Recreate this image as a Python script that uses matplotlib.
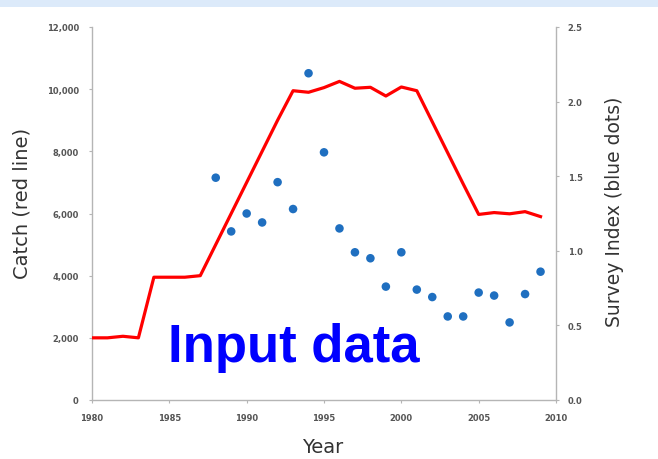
import matplotlib
matplotlib.use("Agg")
import matplotlib.pyplot as plt
from matplotlib.patches import Rectangle
from matplotlib.ticker import FuncFormatter

# ---- data ----
catch_years = list(range(1980, 2010))
catch = [2000, 2000, 2050, 2000, 3950, 3950, 3950, 4000, 5000, 6000,
         7000, 8000, 9000, 9950, 9900, 10050, 10250, 10030, 10060, 9780,
         10070, 9950, 8950, 7950, 6950, 5970, 6030, 5990, 6060, 5900]

survey_years = list(range(1988, 2010))
survey = [1.49, 1.13, 1.25, 1.19, 1.46, 1.28, 2.19, 1.66, 1.15, 0.99,
          0.95, 0.76, 0.99, 0.74, 0.69, 0.56, 0.56, 0.72, 0.70, 0.52,
          0.71, 0.86]

x_ticks = [1980, 1985, 1990, 1995, 2000, 2005, 2010]
left_ticks = [0, 2000, 4000, 6000, 8000, 10000, 12000]
right_ticks = [0.0, 0.5, 1.0, 1.5, 2.0, 2.5]

W, H = 658, 460
fig = plt.figure(figsize=(W / 100, H / 100), dpi=100)
fig.patch.set_facecolor("white")
fig.patches.append(Rectangle((0, 1 - 8 / H), 1, 8 / H, transform=fig.transFigure,
                             facecolor="#dceafa", edgecolor="none", zorder=0))

ax = fig.add_axes([92 / W, 1 - 401 / H, (556 - 92) / W, (401 - 28) / H])
ax2 = ax.twinx()

ax.plot(catch_years, catch, color="#ff0000", lw=2.3, zorder=3)
ax2.scatter(survey_years, survey, s=38, color="#1f6fc0", zorder=4, edgecolors="none")

ax.set_xlim(1980, 2010)
ax.set_ylim(0, 12000)
ax2.set_ylim(0, 2.5)
ax.set_xticks(x_ticks)
ax.set_yticks(left_ticks)
ax2.set_yticks(right_ticks)
ax.yaxis.set_major_formatter(FuncFormatter(lambda v, p: f"{int(v):,}"))
ax2.yaxis.set_major_formatter(FuncFormatter(lambda v, p: f"{v:.1f}"))

spine_c = "#b5b5b5"
for a in (ax, ax2):
    a.spines["top"].set_visible(False)
    for s in ("left", "right", "bottom"):
        a.spines[s].set_color(spine_c)
        a.spines[s].set_linewidth(1.0)
    a.tick_params(colors=spine_c, length=2.5, width=0.8, labelsize=6,
                  labelcolor="#555555")
ax.spines["right"].set_visible(False)
ax2.spines["left"].set_visible(False)
ax2.spines["bottom"].set_visible(False)
ax.tick_params(axis="y", pad=7)
ax.tick_params(axis="x", pad=7)
ax2.tick_params(axis="y", pad=6)
for lbl in ax.get_xticklabels() + ax.get_yticklabels() + ax2.get_yticklabels():
    lbl.set_fontweight("bold")

lab_c = "#333333"
fig.text(22 / W, 1 - 203 / H, "Catch (red line)", rotation=90, ha="center",
         va="center", fontsize=14, color=lab_c)
fig.text(614 / W, 1 - 212 / H, "Survey Index (blue dots)", rotation=90,
         ha="center", va="center", fontsize=13.5, color=lab_c)
fig.text(323 / W, 1 - 448 / H, "Year", ha="center", va="center",
         fontsize=14, color=lab_c)

fig.text(168 / W, 1 - 362 / H, "Input data", ha="left", va="baseline",
         fontsize=38, fontweight="bold", color="#0000ff",
         family="Liberation Sans")

fig.savefig("out.png", dpi=100)
